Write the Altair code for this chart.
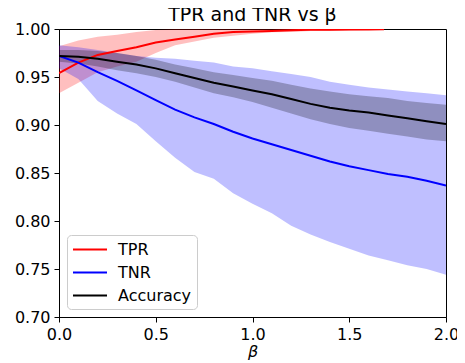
import altair as alt
import pandas as pd

# ---- data ----
beta = [0.0, 0.1, 0.2, 0.3, 0.4, 0.5, 0.6, 0.7, 0.8, 0.9, 1.0,
        1.1, 1.2, 1.3, 1.4, 1.5, 1.6, 1.7, 1.8, 1.9, 2.0]
tpr_beta = [0.0, 0.1, 0.2, 0.3, 0.4, 0.5, 0.6, 0.7, 0.8, 0.9, 1.0,
            1.1, 1.2, 1.3, 1.4, 1.5, 1.6, 1.68]

tpr_mean = [0.954, 0.965, 0.973, 0.977, 0.981, 0.986, 0.989, 0.992, 0.995, 0.997,
            0.9975, 0.998, 0.9988, 0.9992, 0.9993, 0.9995, 0.9996, 0.9997]
tpr_hi = [0.982, 0.988, 0.992, 0.994, 0.997, 0.999, 1.0, 1.0, 1.0, 1.0,
          1.0, 1.0, 1.0, 1.0, 1.0, 1.0, 1.0, 1.0]
tpr_lo = [0.933, 0.944, 0.955, 0.961, 0.966, 0.975, 0.983, 0.987, 0.991, 0.993,
          0.995, 0.9965, 0.997, 0.998, 0.998, 0.9985, 0.999, 0.999]

tnr_mean = [0.972, 0.965, 0.955, 0.946, 0.936, 0.926, 0.916, 0.908, 0.901, 0.893,
            0.886, 0.880, 0.874, 0.868, 0.862, 0.857, 0.853, 0.849, 0.846, 0.842, 0.837]
tnr_hi = [0.983, 0.981, 0.978, 0.975, 0.972, 0.970, 0.969, 0.967, 0.965, 0.961,
          0.959, 0.956, 0.953, 0.950, 0.945, 0.942, 0.939, 0.937, 0.935, 0.933, 0.931]
tnr_lo = [0.959, 0.948, 0.925, 0.912, 0.901, 0.883, 0.866, 0.851, 0.844, 0.829,
          0.818, 0.808, 0.795, 0.786, 0.778, 0.771, 0.764, 0.759, 0.754, 0.750, 0.744]

acc_mean = [0.972, 0.971, 0.969, 0.966, 0.963, 0.959, 0.954, 0.949, 0.944, 0.940,
            0.936, 0.932, 0.927, 0.922, 0.918, 0.915, 0.913, 0.910, 0.907, 0.904, 0.901]
acc_hi = [0.978, 0.978, 0.977, 0.975, 0.972, 0.968, 0.963, 0.959, 0.955, 0.952,
          0.949, 0.946, 0.942, 0.938, 0.935, 0.932, 0.930, 0.928, 0.925, 0.923, 0.921]
acc_lo = [0.966, 0.964, 0.961, 0.957, 0.954, 0.950, 0.945, 0.939, 0.933, 0.929,
          0.924, 0.918, 0.912, 0.906, 0.901, 0.897, 0.894, 0.891, 0.888, 0.885, 0.883]

series = ["TPR", "TNR", "Accuracy"]
colors = ["#ff0000", "#0000ff", "#000000"]

rows = []
for name, xs, m, lo, hi in [
    ("TPR", tpr_beta, tpr_mean, tpr_lo, tpr_hi),
    ("TNR", beta, tnr_mean, tnr_lo, tnr_hi),
    ("Accuracy", beta, acc_mean, acc_lo, acc_hi),
]:
    for i, b in enumerate(xs):
        rows.append({"series": name, "beta": b, "mean": m[i], "lo": lo[i], "hi": hi[i]})
df = pd.DataFrame(rows)

FONT = "DejaVu Sans"

x = alt.X("beta:Q", title="β",
          scale=alt.Scale(domain=[0, 2], nice=False),
          axis=alt.Axis(values=[0, 0.5, 1.0, 1.5, 2.0], format=".1f",
                        titleFontStyle="italic", labelFlush=False))
yscale = alt.Scale(domain=[0.70, 1.00], nice=False, zero=False)
y = alt.Y("mean:Q", title=None, scale=yscale,
          axis=alt.Axis(values=[0.70, 0.75, 0.80, 0.85, 0.90, 0.95, 1.00],
                        format=".2f", labelFlush=False))

base = alt.Chart(df)

band_layers = [
    base.transform_filter(alt.datum.series == name)
        .mark_area(opacity=0.25, clip=True, color=col)
        .encode(x=x, y=alt.Y("lo:Q", scale=yscale), y2="hi:Q")
    for name, col in zip(series, colors)
]

lines = base.mark_line(strokeWidth=2, clip=True).encode(
    x=x,
    y=y,
    color=alt.Color("series:N", scale=alt.Scale(domain=series, range=colors),
                    sort=series,
                    legend=alt.Legend(
                        title=None, orient="bottom-left", offset=8,
                        symbolType="M-1,0H3", symbolSize=289,
                        symbolStrokeWidth=2, labelFontSize=16, labelFont=FONT,
                        labelColor="black",
                        labelOffset=27, rowPadding=5, padding=5,
                        fillColor="white", strokeColor="#cccccc",
                        cornerRadius=4)),
)

chart = alt.layer(*band_layers, lines).properties(
    width=387, height=288,
    title=alt.TitleParams("TPR and TNR vs β", font=FONT, fontSize=19,
                          fontWeight="normal", color="black", offset=-4),
    padding={"left": 51, "top": 21, "right": 11, "bottom": 48},
    autosize=alt.AutoSizeParams(type="none"),
).configure_view(
    stroke="black", strokeWidth=1
).configure_axis(
    grid=False, domainColor="black", tickColor="black", tickSize=5,
    labelFont=FONT, labelFontSize=16, labelColor="black", labelPadding=4,
    titleFont=FONT, titleFontSize=16, titleColor="black", titleFontWeight="normal",
    titlePadding=1,
)

chart.save("out.html", embed_options={"renderer": "svg", "actions": False})
